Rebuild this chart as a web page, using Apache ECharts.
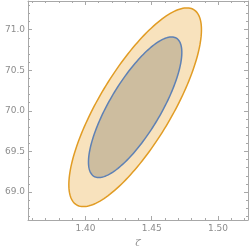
<!DOCTYPE html>
<html><head><meta charset="utf-8">
<script src="https://cdn.jsdelivr.net/npm/echarts@6/dist/echarts.min.js"></script>
<style>html,body{margin:0;padding:0;background:#fff}#c{width:250px;height:246px}</style>
</head><body><div id="c"></div>
<script>
// ellipse parameters (confidence regions): center, half-extents, correlation
var ellipseNames = ['outer', 'inner'];
var centerZeta = [1.4375, 1.4375];
var centerH = [70.044, 70.044];
var halfZeta = [0.0500, 0.0352];
var halfH = [1.224, 0.866];
var rho = [0.78, 0.78];

var xRange = [1.3567, 1.5226];
var yRange = [68.655, 71.353];
var xMajor = [1.40, 1.45, 1.50];
var xMinor = [1.36,1.37,1.38,1.39,1.41,1.42,1.43,1.44,1.46,1.47,1.48,1.49,1.51,1.52];
var yMajor = [69.0, 69.5, 70.0, 70.5, 71.0];
var yMinor = [68.7,68.8,68.9,69.1,69.2,69.3,69.4,69.6,69.7,69.8,69.9,70.1,70.2,70.3,70.4,70.6,70.7,70.8,70.9,71.1,71.2,71.3];

var fills = ['#f8e2bd', '#cdbd9f'];
var strokes = ['#e19c24', '#5e81b5'];

var data = ellipseNames.map(function(n, i){ return [i]; });

var chart = echarts.init(document.getElementById('c'), null, {renderer: 'canvas'});
var gray = '#a8a8a8';
var labelStyle = {color: '#8c8c8c', fontSize: 9, fontFamily: 'DejaVu Sans'};
function xAxisDef(pos, vals, len, showLabel, showLine, extra) {
  return Object.assign({
    type: 'value', position: pos, min: xRange[0], max: xRange[1],
    axisLine: {show: showLine, onZero: false, lineStyle: {color: gray, width: 1}},
    axisTick: {show: true, inside: true, length: len, customValues: vals, lineStyle: {color: gray}},
    axisLabel: {show: showLabel, customValues: vals, formatter: function(v){return v.toFixed(2);}, margin: 4, color: labelStyle.color, fontSize: 9, fontFamily: labelStyle.fontFamily},
    splitLine: {show: false}
  }, extra || {});
}
function yAxisDef(pos, vals, len, showLabel, showLine, extra) {
  return Object.assign({
    type: 'value', position: pos, min: yRange[0], max: yRange[1],
    axisLine: {show: showLine, onZero: false, lineStyle: {color: gray, width: 1}},
    axisTick: {show: true, inside: true, length: len, customValues: vals, lineStyle: {color: gray}},
    axisLabel: {show: showLabel, customValues: vals, formatter: function(v){return v.toFixed(1);}, margin: 3, color: labelStyle.color, fontSize: 9, fontFamily: labelStyle.fontFamily},
    splitLine: {show: false}
  }, extra || {});
}

chart.setOption({
  animation: false,
  grid: {left: 28, right: 2, top: 1, bottom: 26, containLabel: false, outerBoundsMode: 'none'},
  xAxis: [
    xAxisDef('bottom', xMajor, 4, true, true, {name: 'ζ', nameLocation: 'middle', nameGap: 18, nameTextStyle: {color: '#8c8c8c', fontSize: 10, fontFamily: 'DejaVu Serif', fontStyle: 'italic'}}),
    xAxisDef('bottom', xMinor, 2, false, false),
    xAxisDef('top', xMajor, 4, false, true),
    xAxisDef('top', xMinor, 2, false, false)
  ],
  yAxis: [
    yAxisDef('left', yMajor, 4, true, true, {name: 'H', nameLocation: 'middle', nameGap: 21, nameRotate: 90, nameTextStyle: {color: '#8c8c8c', fontSize: 9, fontFamily: 'DejaVu Serif'}}),
    yAxisDef('left', yMinor, 2, false, false),
    yAxisDef('right', yMajor, 4, false, true),
    yAxisDef('right', yMinor, 2, false, false)
  ],
  series: [{
    type: 'custom',
    xAxisIndex: 0, yAxisIndex: 0,
    data: data,
    clip: true,
    renderItem: function(params, api) {
      var i = api.value(0);
      var pts = [];
      var s = Math.sqrt(1 - rho[i]*rho[i]);
      for (var k = 0; k < 180; k++) {
        var t = k / 180 * 2 * Math.PI;
        var x = centerZeta[i] + halfZeta[i] * Math.cos(t);
        var y = centerH[i] + halfH[i] * (rho[i] * Math.cos(t) + s * Math.sin(t));
        pts.push(api.coord([x, y]));
      }
      return {type: 'polygon', shape: {points: pts}, style: {fill: fills[i], stroke: strokes[i], lineWidth: 1.5}};
    }
  }]
});
</script></body></html>
